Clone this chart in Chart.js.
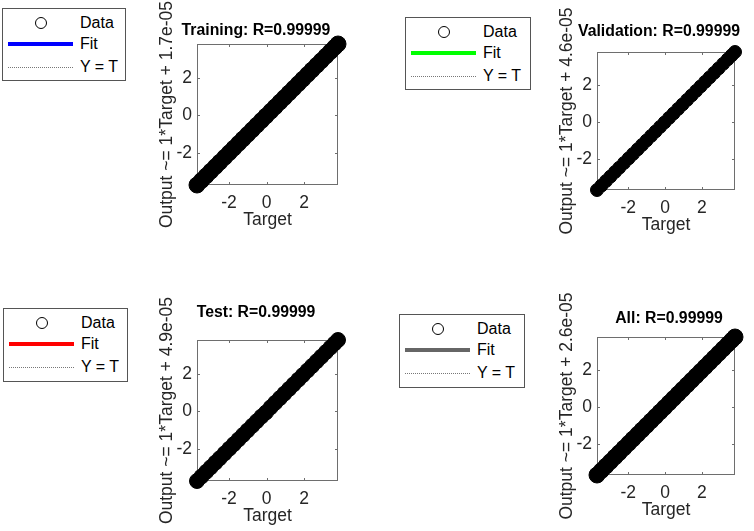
<!DOCTYPE html>
<html>
<head>
<meta charset="utf-8">
<title>Regression plots</title>
<script src="https://cdn.jsdelivr.net/npm/chart.js@4.4.1/dist/chart.umd.min.js"></script>
<style>
  body { margin: 0; width: 754px; height: 531px; overflow: hidden; background: #fff; position: relative;
         font-family: "Liberation Sans", Arial, sans-serif; }
  canvas { position: absolute; }
  .legend { position: absolute; box-sizing: border-box; border: 1px solid #555; background: #fff; }
  .legend .row { position: absolute; left: 0; right: 0; height: 22px; }
  .legend .txt { position: absolute; left: 77px; top: 0; line-height: 22px; font-size: 16px; color: #000; white-space: nowrap; }
  .legend .dot { position: absolute; left: 32px; top: 5px; width: 12px; height: 12px; box-sizing: border-box;
                 border: 1.3px solid #000; border-radius: 50%; }
  .legend .fit { position: absolute; left: 5px; width: 65px; top: 9px; height: 4px; }
  .legend .yt { position: absolute; left: 5px; width: 65px; top: 11px; border-top: 1px dotted #777; }
</style>
</head>
<body>
<script>
// ===============================
// DATOS
// ===============================
const axisMin = -3.7;
const axisMax = 3.8;
const tickValues = [-2, 0, 2];

const panelTitles = ["Training: R=0.99999", "Validation: R=0.99999", "Test: R=0.99999", "All: R=0.99999"];
const yAxisLabels = [
  "Output ~= 1*Target + 1.7e-05",
  "Output ~= 1*Target + 4.6e-05",
  "Output ~= 1*Target + 4.9e-05",
  "Output ~= 1*Target + 2.6e-05"
];
const legendLabels = ["Data", "Fit", "Y = T"];
const fitSlopes = [1, 1, 1, 1];
const fitIntercepts = [1.7e-5, 4.6e-5, 4.9e-5, 2.6e-5];

const targets = [-3.70, -3.46, -3.21, -2.97, -2.72, -2.49, -2.23, -1.98, -1.74, -1.49, -1.25, -1.01,
                 -0.76, -0.52, -0.27, -0.03, 0.22, 0.46, 0.71, 0.95, 1.20, 1.44, 1.69, 1.93,
                 2.18, 2.42, 2.67, 2.91, 3.16, 3.40, 3.62, 3.80];
const trainOutputs = [-3.70, -3.46, -3.21, -2.97, -2.72, -2.49, -2.23, -1.98, -1.74, -1.49, -1.25, -1.01,
                      -0.76, -0.52, -0.27, -0.03, 0.22, 0.46, 0.71, 0.95, 1.20, 1.44, 1.69, 1.93,
                      2.18, 2.42, 2.67, 2.91, 3.16, 3.40, 3.62, 3.80];
const validOutputs = [-3.70, -3.46, -3.21, -2.97, -2.72, -2.49, -2.23, -1.98, -1.74, -1.49, -1.25, -1.01,
                      -0.76, -0.52, -0.27, -0.03, 0.22, 0.46, 0.71, 0.95, 1.20, 1.44, 1.69, 1.93,
                      2.18, 2.42, 2.67, 2.91, 3.16, 3.40, 3.62, 3.80];
const testOutputs = [-3.70, -3.46, -3.21, -2.97, -2.72, -2.49, -2.23, -1.98, -1.74, -1.49, -1.25, -1.01,
                     -0.76, -0.52, -0.27, -0.05, 0.22, 0.46, 0.71, 0.95, 1.20, 1.44, 1.69, 1.93,
                     2.18, 2.42, 2.67, 2.91, 3.16, 3.40, 3.62, 3.80];
const allOutputs = [-3.70, -3.46, -3.21, -2.97, -2.72, -2.49, -2.23, -1.98, -1.74, -1.49, -1.25, -1.01,
                    -0.76, -0.52, -0.27, -0.03, 0.22, 0.46, 0.71, 0.95, 1.20, 1.44, 1.69, 1.93,
                    2.18, 2.42, 2.67, 2.91, 3.16, 3.40, 3.62, 3.80];
const panelOutputs = [trainOutputs, validOutputs, testOutputs, allOutputs];

// ===============================
// ESTILO Y POSICIONES
// ===============================
const fitColors = ["#0000ff", "#00ff00", "#ff0000", "#666666"];
const panels = [
  { plotX: 197, plotY: 44,  size: 141, titleDx: -11.5, titleGap: 13,   radius: 8.5, legend: [2, 8, 124, 73] },
  { plotX: 597, plotY: 52,  size: 138, titleDx: -7,    titleGap: 20,   radius: 7,   legend: [405, 17, 126, 73] },
  { plotX: 197, plotY: 340, size: 141, titleDx: -11.5, titleGap: 27.5, radius: 8,   legend: [3, 308, 125, 74] },
  { plotX: 597, plotY: 337, size: 138, titleDx: 3,     titleGap: 18.5, radius: 8.5, legend: [399, 314, 126, 74] }
];
const AXIS_W = 45, AXIS_H = 46, PAD_TOP = 50, PAD_RIGHT = 20;
const textColor = "#262626";
const fontFamily = '"Liberation Sans", Arial, sans-serif';

Chart.defaults.font.family = fontFamily;
Chart.defaults.font.size = 17.5;

// marco con ticks hacia adentro (estilo MATLAB)
const framePlugin = {
  id: "frame",
  beforeDatasetsDraw(chart) {
    const { ctx, chartArea: a, scales } = chart;
    ctx.save();
    ctx.strokeStyle = "#6e6e6e";
    ctx.lineWidth = 1;
    ctx.strokeRect(a.left + 0.5, a.top + 0.5, a.width - 1, a.height - 1);
    ctx.beginPath();
    tickValues.forEach(v => {
      const px = Math.round(scales.x.getPixelForValue(v)) + 0.5;
      const py = Math.round(scales.y.getPixelForValue(v)) + 0.5;
      ctx.moveTo(px, a.bottom); ctx.lineTo(px, a.bottom - 3);
      ctx.moveTo(px, a.top); ctx.lineTo(px, a.top + 3);
      ctx.moveTo(a.left, py); ctx.lineTo(a.left + 3, py);
      ctx.moveTo(a.right, py); ctx.lineTo(a.right - 3, py);
    });
    ctx.stroke();
    ctx.restore();
  }
};

// titulo centrado sobre el area del grafico
const titlePlugin = {
  id: "panelTitle",
  afterDraw(chart, args, opts) {
    const { ctx, chartArea: a } = chart;
    ctx.save();
    ctx.font = "bold 15.8px " + fontFamily;
    ctx.fillStyle = "#000";
    ctx.textAlign = "center";
    ctx.textBaseline = "middle";
    ctx.fillText(opts.text, (a.left + a.right) / 2 + opts.dx, a.top - opts.gap);
    ctx.restore();
  }
};

function setTicks(scale) {
  scale.ticks = tickValues.map(v => ({ value: v }));
}

function buildLegend(i) {
  const [l, t, w, h] = panels[i].legend;
  const box = document.createElement("div");
  box.className = "legend";
  box.style.cssText = `left:${l}px;top:${t}px;width:${w}px;height:${h}px;`;
  const rowTops = [3, 24, 47];
  const marks = [
    '<div class="dot"></div>',
    `<div class="fit" style="background:${fitColors[i]}"></div>`,
    '<div class="yt"></div>'
  ];
  legendLabels.forEach((lab, k) => {
    const row = document.createElement("div");
    row.className = "row";
    row.style.top = rowTops[k] + "px";
    row.innerHTML = marks[k] + `<span class="txt">${lab}</span>`;
    box.appendChild(row);
  });
  document.body.appendChild(box);
}

function buildPanel(i) {
  const p = panels[i];
  const canvas = document.createElement("canvas");
  const w = AXIS_W + p.size + PAD_RIGHT;
  const h = PAD_TOP + p.size + AXIS_H;
  canvas.width = w;
  canvas.height = h;
  canvas.style.left = (p.plotX - AXIS_W) + "px";
  canvas.style.top = (p.plotY - PAD_TOP) + "px";
  canvas.style.width = w + "px";
  canvas.style.height = h + "px";
  document.body.appendChild(canvas);

  const outputs = panelOutputs[i];
  const points = targets.map((t, k) => ({ x: t, y: outputs[k] }));
  const fitLine = [axisMin, axisMax].map(x => ({ x: x, y: fitSlopes[i] * x + fitIntercepts[i] }));
  const idLine = [axisMin, axisMax].map(x => ({ x: x, y: x }));

  new Chart(canvas, {
    type: "scatter",
    data: {
      datasets: [
        {
          label: legendLabels[0], data: points, order: 0, clip: false,
          backgroundColor: "#000", borderColor: "#000", borderWidth: 1,
          pointRadius: p.radius - 0.5, pointHoverRadius: p.radius - 0.5
        },
        {
          type: "line", label: legendLabels[1], data: fitLine, order: 1, clip: false,
          borderColor: fitColors[i], borderWidth: 2, pointRadius: 0
        },
        {
          type: "line", label: legendLabels[2], data: idLine, order: 2, clip: false,
          borderColor: "#555", borderWidth: 1, borderDash: [1, 2], pointRadius: 0
        }
      ]
    },
    options: {
      responsive: false,
      animation: false,
      events: [],
      layout: { padding: { top: PAD_TOP, right: PAD_RIGHT, left: 0, bottom: 0 } },
      plugins: {
        legend: { display: false },
        tooltip: { enabled: false },
        panelTitle: { text: panelTitles[i], dx: p.titleDx, gap: p.titleGap }
      },
      scales: {
        x: {
          type: "linear", min: axisMin, max: axisMax,
          afterBuildTicks: setTicks,
          afterFit: s => { s.height = AXIS_H; },
          grid: { display: false, drawTicks: false },
          border: { display: false },
          ticks: { padding: 8, color: textColor },
          title: { display: true, text: "Target", color: textColor, padding: { top: 0, bottom: 0 } }
        },
        y: {
          type: "linear", min: axisMin, max: axisMax,
          afterBuildTicks: setTicks,
          afterFit: s => { s.width = AXIS_W; },
          grid: { display: false, drawTicks: false },
          border: { display: false },
          ticks: { padding: 5, color: textColor },
          title: { display: true, text: yAxisLabels[i], color: textColor, padding: { top: 5, bottom: 0 } }
        }
      }
    },
    plugins: [framePlugin, titlePlugin]
  });
}

for (let i = 0; i < panels.length; i++) {
  buildPanel(i);
  buildLegend(i);
}
</script>
</body>
</html>
